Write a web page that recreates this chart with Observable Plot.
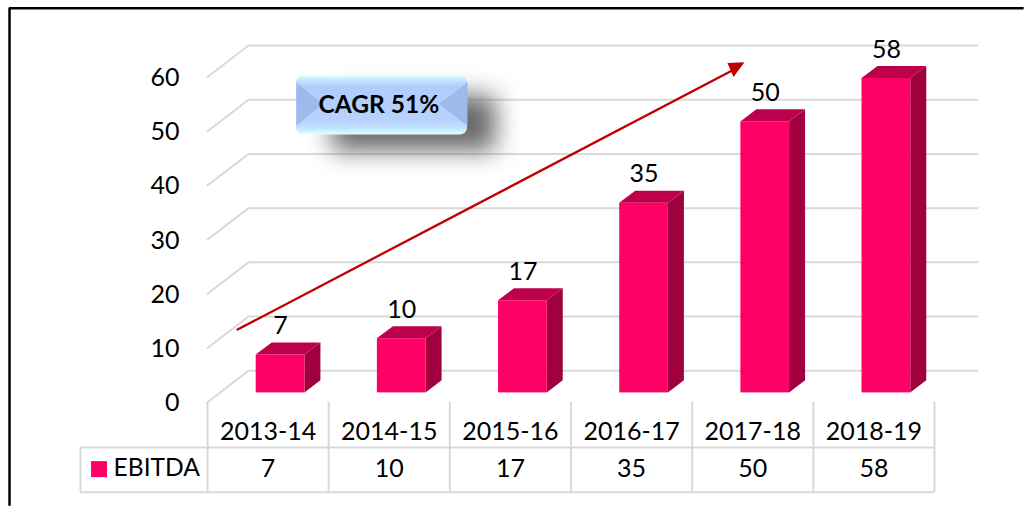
<!DOCTYPE html>
<html>
<head>
<meta charset="utf-8">
<script src="https://cdn.jsdelivr.net/npm/d3@7"></script>
<script src="https://cdn.jsdelivr.net/npm/@observablehq/plot@0.6"></script>
<style>
  html, body { margin: 0; padding: 0; background: #fff; overflow: hidden; }
  svg { display: block; }
</style>
</head>
<body>
<div id="chart"></div>
<script>
const categories = ["2013-14", "2014-15", "2015-16", "2016-17", "2017-18", "2018-19"];
const ebitda = [7, 10, 17, 35, 50, 58];
const yTicks = [0, 10, 20, 30, 40, 50, 60];
const seriesName = "EBITDA";
const callout = "CAGR 51%";

// 3-D projection, in data units
const wallDX = 0.338, wallDY = 5.8, wallRight = 6.355;
const barStart = 0.402, barWidth = 0.402, barBase = 1.72, depthDX = 0.132, depthDY = 2.22;
const headerRow = -5.42, valueRow = -12.25, rowLine = -8.37, tableBottom = -16.6, tableLeft = -1.048;

const PINK = "#ff0066", TOP = "#bd004c", SIDE = "#a1003f", GRID = "#d9d9d9", RED = "#c00000";
const FONT = 25;

const rows = categories.map((c, i) => ({
  i, c, v: ebitda[i],
  xl: i + barStart, xr: i + barStart + barWidth,
  top: ebitda[i] + barBase
}));
const grid = yTicks.flatMap(v => [
  {v, x: 0, y: v},
  {v, x: wallDX, y: v + wallDY},
  {v, x: wallRight, y: v + wallDY}
]);
const sideFaces = rows.flatMap(d => [
  {i: d.i, x: d.xr, y1: barBase, y2: d.top},
  {i: d.i, x: d.xr + depthDX, y1: barBase + depthDY, y2: d.top + depthDY}
]);
const topFaces = rows.flatMap(d => [
  {i: d.i, y: d.top, x1: d.xl, x2: d.xr},
  {i: d.i, y: d.top + depthDY, x1: d.xl + depthDX, x2: d.xr + depthDX}
]);
const arrowShaft = [{x: 0.248, y: 13.4}, {x: 4.33, y: 61.2}];
const arrowHead = [{x: 4.432, y: 62.7}, {x: 4.291, y: 62.6}, {x: 4.341, y: 60.0}];
const box = {x1: 0.734, x2: 2.146, y1: 49.3, y2: 60.2};
const bevelLeft = [{x: 0.734, y: 59.0}, {x: 0.95, y: 55.0}, {x: 0.734, y: 51.0}];
const bevelRight = [{x: 2.146, y: 59.0}, {x: 1.91, y: 55.0}, {x: 2.146, y: 51.0}];

const defs = () => {
  const d = d3.create("svg:defs");
  const g = d.append("linearGradient").attr("id", "boxFill")
    .attr("x1", 0).attr("y1", 0).attr("x2", 0).attr("y2", 1);
  [[0, "#dcffff"], [0.1, "#bfe0ff"], [0.2, "#b0ccfa"], [0.75, "#b6d2fd"], [0.9, "#c4e4ff"], [1, "#e4ffff"]]
    .forEach(([o, c]) => g.append("stop").attr("offset", o).attr("stop-color", c));
  return d.node();
};
const blurred = (index, scales, values, dimensions, context, next) => {
  const g = next(index, scales, values, dimensions, context);
  g.style.filter = "blur(12px)";
  return g;
};

const chart = Plot.plot({
  width: 1024,
  height: 506,
  marginLeft: 207,
  marginRight: 90,
  marginTop: 76.5,
  marginBottom: 104.3,
  style: {fontFamily: "Lato, Carlito, sans-serif", fontSize: "25px", color: "#000", background: "#fff", overflow: "visible"},
  x: {domain: [0, 6], axis: null},
  y: {domain: [0, 60]},
  marks: [
    defs,
    // outer frame
    Plot.ruleY([72.7], {x1: -1.634, x2: 6.74, stroke: "#000", strokeWidth: 2.5}),
    Plot.ruleX([-1.634], {y1: 72.7, y2: -19.2, stroke: "#000", strokeWidth: 2.5}),
    // wall gridlines
    Plot.line(grid, {x: "x", y: "y", z: "v", stroke: GRID, strokeWidth: 2}),
    Plot.axisY({ticks: yTicks, tickSize: 0, tickPadding: 28, fontSize: FONT, label: null, anchor: "left", textStroke: "none", dy: 1}),
    // table
    Plot.ruleX(d3.range(0, 7), {y1: 0, y2: tableBottom, stroke: GRID, strokeWidth: 2}),
    Plot.ruleX([tableLeft], {y1: rowLine, y2: tableBottom, stroke: GRID, strokeWidth: 2}),
    Plot.ruleY([rowLine, tableBottom], {x1: tableLeft, x2: 6, stroke: GRID, strokeWidth: 2}),
    Plot.text(rows, {x: d => d.i + 0.5, y: headerRow, text: "c", fontSize: FONT, fill: "#000"}),
    Plot.text(rows, {x: d => d.i + 0.5, y: valueRow, text: "v", fontSize: FONT, fill: "#000"}),
    Plot.rect([seriesName], {x1: -0.957, x2: -0.825, y1: -13.92, y2: -10.96, fill: PINK}),
    Plot.text([seriesName], {x: -0.775, y: valueRow, text: d => d, textAnchor: "start", fontSize: 24.6, fill: "#000"}),
    // bars
    Plot.area(sideFaces, {x1: "x", y1: "y1", y2: "y2", z: "i", fill: SIDE}),
    Plot.area(topFaces, {x1: "x1", x2: "x2", y1: "y", z: "i", fill: TOP}),
    Plot.rect(rows, {x1: "xl", x2: "xr", y1: barBase, y2: "top", fill: PINK}),
    Plot.text(rows, {x: d => d.xl + barWidth / 2, y: d => d.v + 7.05, text: "v", fontSize: FONT, fill: "#000"}),
    // callout
    Plot.rect([box], {x1: 1.03, x2: 2.38, y1: 46.3, y2: 56.5, fill: "#6a6a6a", render: blurred}),
    Plot.rect([box], {x1: "x1", x2: "x2", y1: "y1", y2: "y2", fill: "url(#boxFill)", rx: 7}),
    Plot.line(bevelLeft, {x: "x", y: "y", fill: "#9ebaec", stroke: "none"}),
    Plot.line(bevelRight, {x: "x", y: "y", fill: "#9ebaec", stroke: "none"}),
    Plot.text([callout], {x: (box.x1 + box.x2) / 2 - 0.025, y: (box.y1 + box.y2) / 2, text: d => d, fontSize: 24.5, fontWeight: 700, fill: "#000"}),
    // trend arrow
    Plot.line(arrowShaft, {x: "x", y: "y", stroke: RED, strokeWidth: 2.3}),
    Plot.line(arrowHead, {x: "x", y: "y", fill: RED, stroke: "none"})
  ]
});
document.getElementById("chart").append(chart);
</script>
</body>
</html>
